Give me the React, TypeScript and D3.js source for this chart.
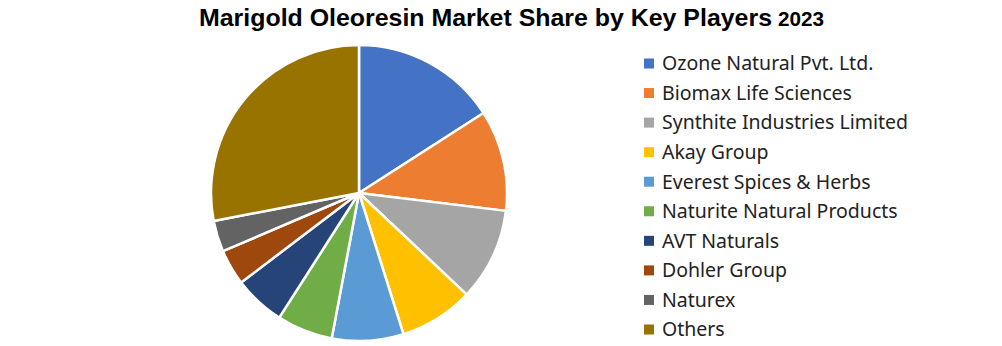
import React from "react";
import * as d3 from "d3";

const players = [
  "Ozone Natural Pvt. Ltd.",
  "Biomax Life Sciences",
  "Synthite Industries Limited",
  "Akay Group",
  "Everest Spices & Herbs",
  "Naturite Natural Products",
  "AVT Naturals",
  "Dohler Group",
  "Naturex",
  "Others",
];
const shares = [15.9, 11.0, 10.1, 8.1, 7.8, 6.1, 5.6, 3.9, 3.4, 28.0];
const colors = [
  "#4472C4", "#ED7D31", "#A5A5A5", "#FFC000", "#5B9BD5",
  "#70AD47", "#264478", "#9E480E", "#636363", "#997300",
];

export default function App() {
  const W = 1002, H = 346;
  const cx = 359, cy = 193, r = 148;
  const pie = d3.pie<number>().sort(null).value((d) => d)(shares);
  const arc = d3.arc<d3.PieArcDatum<number>>().innerRadius(0).outerRadius(r);
  const color = d3.scaleOrdinal<string, string>().domain(players).range(colors);
  const legendY = d3.scalePoint<string>().domain(players).range([63.5, 329.5]);
  return (
    <svg width={W} height={H} style={{ position: "absolute", left: 0, top: 0, background: "#fff" }}>
      <text x={199} y={26} fontFamily="Liberation Sans, Arial, sans-serif" fontWeight="bold" fontSize={24} fill="#000" textLength={573} lengthAdjust="spacingAndGlyphs">
        Marigold Oleoresin Market Share by Key Players
      </text>
      <text x={778} y={26} fontFamily="Liberation Sans, Arial, sans-serif" fontWeight="bold" fontSize={19.5} fill="#000" textLength={46} lengthAdjust="spacingAndGlyphs">
        2023
      </text>
      <g transform={`translate(${cx},${cy})`}>
        {pie.map((p, i) => (
          <path key={i} d={arc(p) || ""} fill={color(players[i])} stroke="#fff" strokeWidth={2.5} strokeLinejoin="round" />
        ))}
      </g>
      <g>
        {players.map((name) => (
          <g key={name} transform={`translate(644,${legendY(name)})`}>
            <rect x={0} y={-5} width={10} height={10} fill={color(name)} />
            <text x={18} y={0} dy="0.35em" fontFamily="Noto Sans, sans-serif" fontSize={19.5} fill="#222">
              {name}
            </text>
          </g>
        ))}
      </g>
    </svg>
  );
}
